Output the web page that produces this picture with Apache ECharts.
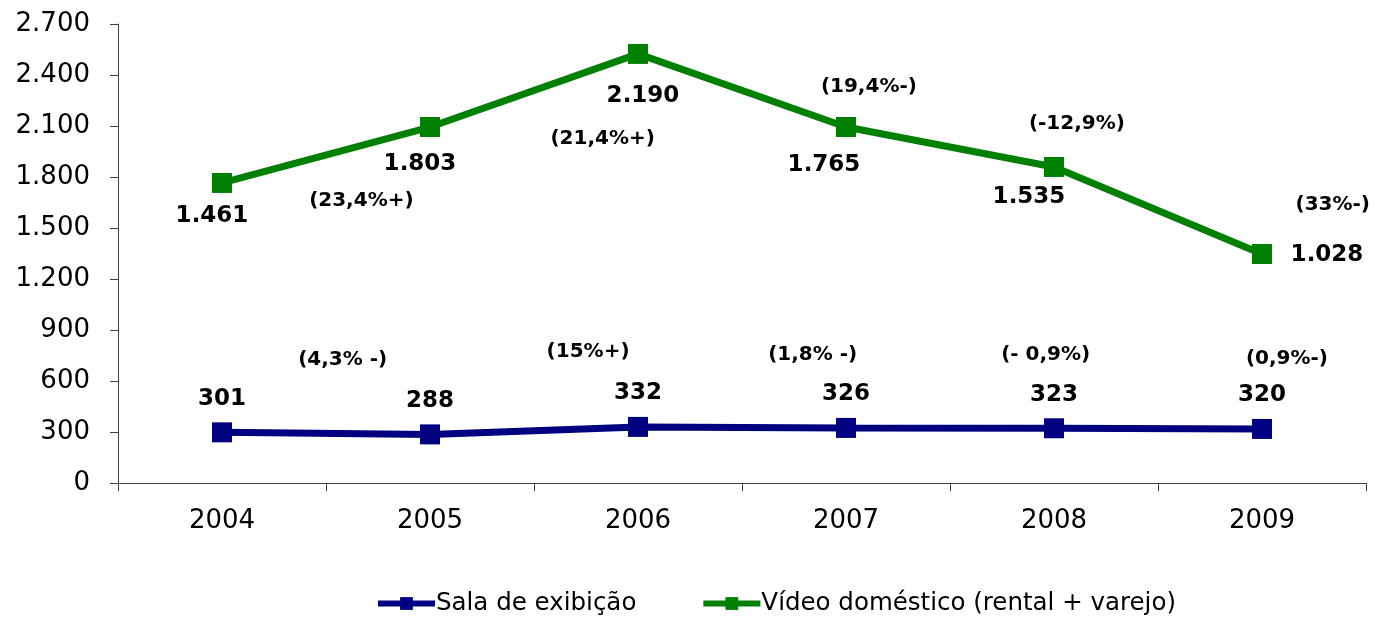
<!DOCTYPE html>
<html>
<head>
<meta charset="utf-8">
<script src="https://cdn.jsdelivr.net/npm/echarts@6/dist/echarts.min.js"></script>
<style>
  html, body { margin: 0; padding: 0; background: #fff; }
  #chart { width: 1377px; height: 618px; }
</style>
</head>
<body>
<div id="chart"></div>
<script>
// categorias e valores
var years = ['2004', '2005', '2006', '2007', '2008', '2009'];
var salaValues = [298, 286, 330, 324, 322, 318];
var salaLabels = [301, 288, 332, 326, 323, 320];
var videoValues = [1765, 2094, 2524, 2094, 1859, 1347];
var videoLabels = [1461, 1803, 2190, 1765, 1535, 1028];

// variações percentuais (posição em índice de ano / valor)
var salaNotes = ['(4,3% -)', '(15%+)', '(1,8% -)', '(- 0,9%)', '(0,9%-)'];
var salaNoteX = [0.58, 1.76, 2.84, 3.96, 5.12];
var salaNoteY = [724, 771, 753, 753, 729];
var videoNotes = ['(23,4%+)', '(21,4%+)', '(19,4%-)', '(-12,9%)', '(33%-)'];
var videoNoteX = [0.67, 1.83, 3.11, 4.11, 5.34];
var videoNoteY = [1659, 2024, 2329, 2112, 1635];

var yTicks = { min: 0, max: 2700, interval: 300 };

// deslocamento dos rótulos da série verde
var videoLabelOffsets = [[-10, 33], [-10, 37], [5, 42], [-22, 38], [-25, 30], [65, 1]];

var FONT = 'DejaVu Sans, Verdana, sans-serif';
var BLUE = '#000080';
var GREEN = '#008000';

function fmt(v) {
  return String(v).replace(/\B(?=(\d{3})+(?!\d))/g, '.');
}

var videoData = videoValues.map(function (v, i) {
  return {
    value: v,
    label: { offset: videoLabelOffsets[i], formatter: fmt(videoLabels[i]) }
  };
});
var salaData = salaValues.map(function (v, i) {
  return { value: v, label: { formatter: fmt(salaLabels[i]) } };
});

var notes = [];
salaNotes.forEach(function (t, i) {
  notes.push({ name: t, value: [salaNoteX[i], salaNoteY[i]] });
});
videoNotes.forEach(function (t, i) {
  notes.push({ name: t, value: [videoNoteX[i], videoNoteY[i]] });
});

var chart = echarts.init(document.getElementById('chart'));
chart.setOption({
  backgroundColor: '#fff',
  animation: false,
  grid: { left: 118, right: 11, top: 24, bottom: 135 },
  legend: {
    top: 591,
    left: 375,
    padding: 0,
    itemWidth: 57,
    itemHeight: 16,
    itemGap: 64,
    textStyle: { fontFamily: FONT, fontSize: 24.5, color: '#000', padding: [0, 0, 0, -4] },
    data: [
      { name: 'Sala de exibição', lineStyle: { width: 6 } },
      { name: 'Vídeo doméstico (rental + varejo)', lineStyle: { width: 6 } }
    ]
  },
  xAxis: [
    {
      type: 'category',
      data: years,
      boundaryGap: true,
      axisLine: { lineStyle: { color: '#404040', width: 1 } },
      axisTick: { show: true, length: 8, lineStyle: { color: '#404040' } },
      axisLabel: { margin: 25, fontFamily: FONT, fontSize: 26, color: '#000' }
    },
    {
      type: 'value',
      min: -0.5,
      max: 5.5,
      show: false
    }
  ],
  yAxis: {
    type: 'value',
    min: yTicks.min,
    max: yTicks.max,
    interval: yTicks.interval,
    axisLine: { show: true, onZero: false, lineStyle: { color: '#404040', width: 1 } },
    axisTick: { show: true, length: 8, lineStyle: { color: '#404040' } },
    splitLine: { show: false },
    axisLabel: {
      margin: 28,
      fontFamily: FONT,
      fontSize: 26,
      color: '#000',
      formatter: fmt
    }
  },
  series: [
    {
      name: 'Sala de exibição',
      type: 'line',
      data: salaData,
      symbol: 'rect',
      symbolSize: 20,
      lineStyle: { color: BLUE, width: 7 },
      itemStyle: { color: BLUE },
      label: {
        show: true,
        position: 'top',
        distance: 12,
        fontFamily: FONT,
        fontSize: 23,
        fontWeight: 'bold',
        color: '#000'
      }
    },
    {
      name: 'Vídeo doméstico (rental + varejo)',
      type: 'line',
      data: videoData,
      symbol: 'rect',
      symbolSize: 20,
      lineStyle: { color: GREEN, width: 7 },
      itemStyle: { color: GREEN },
      label: {
        show: true,
        position: 'inside',
        fontFamily: FONT,
        fontSize: 23,
        fontWeight: 'bold',
        color: '#000'
      }
    },
    {
      name: 'notas',
      type: 'scatter',
      xAxisIndex: 1,
      data: notes,
      symbolSize: 0,
      silent: true,
      itemStyle: { opacity: 1 },
      label: {
        show: true,
        position: 'inside',
        formatter: '{b}',
        fontFamily: FONT,
        fontSize: 20,
        fontWeight: 'bold',
        color: '#000'
      }
    }
  ]
});
</script>
</body>
</html>
